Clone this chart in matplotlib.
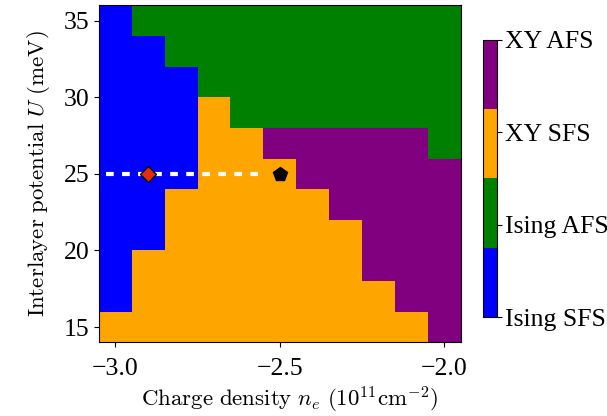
import matplotlib

matplotlib.use("Agg")
import matplotlib.pyplot as plt
import numpy as np
from matplotlib.colors import ListedColormap

# phase codes: 0 Ising SFS, 1 Ising AFS, 2 XY SFS, 3 XY AFS
density = [-3.0, -2.9, -2.8, -2.7, -2.6, -2.5, -2.4, -2.3, -2.2, -2.1, -2.0]
potential = [15, 17, 19, 21, 23, 25, 27, 29, 31, 33, 35]
phase_rows = [
    [2, 2, 2, 2, 2, 2, 2, 2, 2, 2, 3],  # U = 15
    [0, 2, 2, 2, 2, 2, 2, 2, 2, 3, 3],  # 17
    [0, 2, 2, 2, 2, 2, 2, 2, 3, 3, 3],  # 19
    [0, 0, 2, 2, 2, 2, 2, 2, 3, 3, 3],  # 21
    [0, 0, 2, 2, 2, 2, 2, 3, 3, 3, 3],  # 23
    [0, 0, 0, 2, 2, 2, 3, 3, 3, 3, 3],  # 25
    [0, 0, 0, 2, 2, 3, 3, 3, 3, 3, 1],  # 27
    [0, 0, 0, 2, 1, 1, 1, 1, 1, 1, 1],  # 29
    [0, 0, 0, 1, 1, 1, 1, 1, 1, 1, 1],  # 31
    [0, 0, 1, 1, 1, 1, 1, 1, 1, 1, 1],  # 33
    [0, 1, 1, 1, 1, 1, 1, 1, 1, 1, 1],  # 35
]
phase_names = ["Ising SFS", "Ising AFS", "XY SFS", "XY AFS"]
phase_colors = ["blue", "green", "orange", "purple"]

cut_x = [-3.03, -2.56]
cut_y = [25, 25]
diamond_pt = (-2.9, 25)
pentagon_pt = (-2.5, 25)

plt.rcParams["font.family"] = "serif"
plt.rcParams["font.serif"] = ["Liberation Serif", "DejaVu Serif"]
plt.rcParams["mathtext.fontset"] = "cm"

fig = plt.figure(figsize=(6.07, 4.16), dpi=100)
ax = fig.add_axes([0.163, 0.177, 0.596, 0.810])
cax = fig.add_axes([0.796, 0.237, 0.023, 0.668])

cmap = ListedColormap(phase_colors)
mesh = ax.pcolormesh(density, potential, np.array(phase_rows), cmap=cmap, vmin=0, vmax=3, shading="nearest")
ax.plot(cut_x, cut_y, color="white", linewidth=3, dashes=(1.85, 2.0))
ax.plot(*diamond_pt, marker="D", ms=8, color="#e62a14", markeredgecolor="black", markeredgewidth=1)
ax.plot(*pentagon_pt, marker="p", ms=10.5, color="black")

ax.set_xticks([-3.0, -2.5, -2.0])
ax.set_yticks([15, 20, 25, 30, 35])
ax.tick_params(labelsize=18.5)
ax.tick_params(axis="x", pad=8)
ax.set_xlabel(r"$\mathrm{Charge\ density}\ n_e\ (10^{11}\mathrm{cm}^{-2})$", fontsize=16.5)
ax.xaxis.set_label_coords(0.528, -0.125)
ax.set_ylabel(r"$\mathrm{Interlayer\ potential}\ U\ \mathrm{(meV)}$", fontsize=16.5, labelpad=8)

cbar = fig.colorbar(mesh, cax=cax, ticks=[0, 1, 2, 3])
cbar.ax.set_yticklabels(phase_names)
cbar.ax.tick_params(labelsize=18.5, pad=2)

fig.savefig("out.png")
plt.close(fig)
